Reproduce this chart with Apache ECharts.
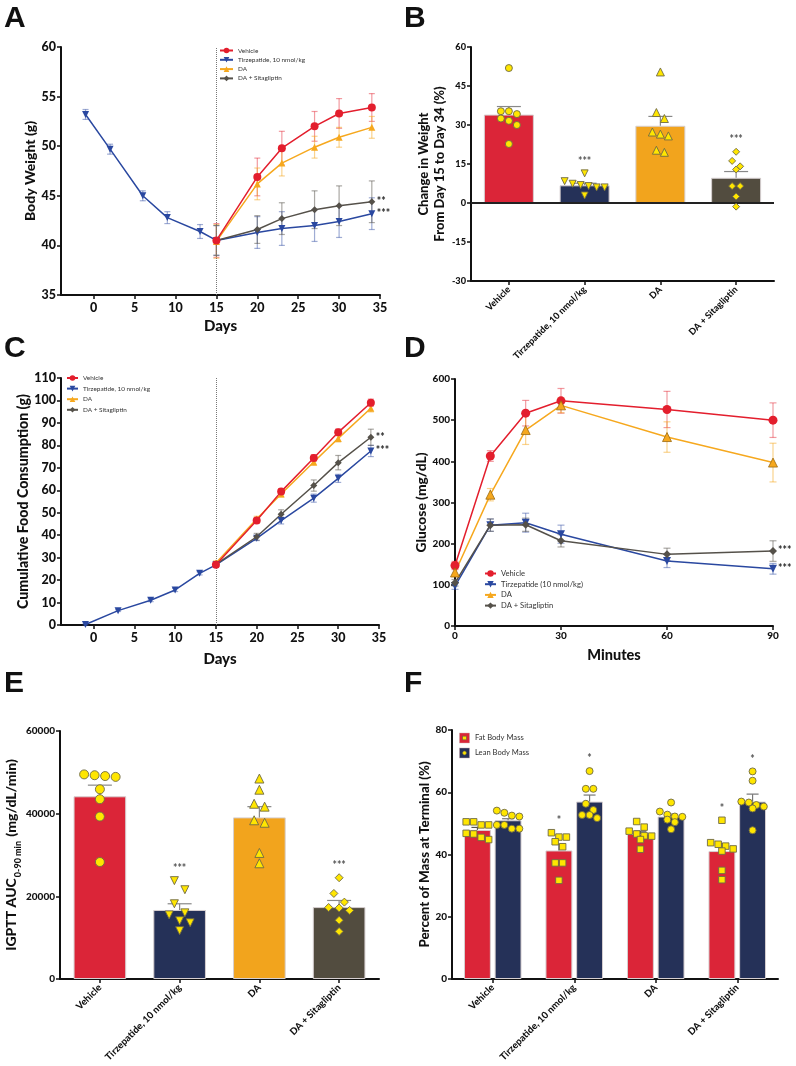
<!DOCTYPE html>
<html><head><meta charset="utf-8">
<script src="https://cdn.jsdelivr.net/npm/echarts@6/dist/echarts.min.js"></script>
<style>html,body{margin:0;padding:0;background:#fff}#c{width:796px;height:1066px}</style>
</head><body><div id="c"></div>
<script>
// ---------------- DATA ----------------
const GROUPS = ['Vehicle', 'Tirzepatide, 10 nmol/kg', 'DA', 'DA + Sitagliptin'];
const LEGEND_D = ['Vehicle', 'Tirzepatide (10 nmol/kg)', 'DA', 'DA + Sitagliptin'];
const DAY_TICKS = [0, 5, 10, 15, 20, 25, 30, 35];

// Panel A: body weight (g)
const daysTirzA = [-1, 2, 6, 9, 13, 15, 20, 23, 27, 30, 34];
const bwTirz    = [53.2, 49.7, 45.0, 42.8, 41.4, 40.5, 41.3, 41.7, 42.0, 42.4, 43.2];
const bwTirzSem = [0.5, 0.5, 0.5, 0.6, 0.7, 1.5, 1.6, 1.7, 1.6, 1.6, 1.6];
const daysPost  = [15, 20, 23, 27, 30, 34];
const bwVeh     = [40.5, 46.9, 49.8, 52.0, 53.3, 53.9];
const bwVehSem  = [1.7, 1.9, 1.7, 1.5, 1.5, 1.4];
const bwDA      = [40.4, 46.2, 48.3, 49.9, 50.9, 51.9];
const bwDASem   = [1.7, 1.6, 1.3, 1.1, 1.0, 1.1];
const bwSita    = [40.5, 41.6, 42.7, 43.6, 44.0, 44.4];
const bwSitaSem = [1.5, 1.4, 1.6, 1.9, 2.0, 2.1];

// Panel B: change in weight day 15 -> 34 (%)
const bMean = [34.0, 6.8, 29.7, 9.7];
const bSem  = [3.1, 0.8, 3.6, 2.4];
const bPtsVeh  = [51.9, 35.3, 34.2, 35.3, 32.5, 31.6, 30.0, 22.7];
const bPtsTirz = [11.4, 8.4, 7.4, 6.9, 6.5, 6.0, 6.0, 2.9];
const bPtsDA   = [50.4, 34.8, 32.5, 27.3, 26.5, 25.8, 20.3, 19.5];
const bPtsSita = [19.7, 16.2, 14.1, 12.9, 6.5, 6.5, 2.5, -1.4];
const bSig = ['', '***', '', '***'];

// Panel C: cumulative food consumption (g)
const daysTirzC = [-1, 3, 7, 10, 13, 15, 20, 23, 27, 30, 34];
const fcTirz    = [0.2, 6.4, 11.0, 15.6, 23.0, 26.8, 38.6, 46.5, 56.5, 65.3, 77.5];
const fcTirzSem = [0.3, 0.4, 0.6, 0.7, 0.7, 1.0, 1.0, 1.5, 1.8, 1.8, 2.5];
const fcVeh     = [26.8, 46.5, 59.4, 74.4, 85.8, 99.0];
const fcVehSem  = [1.0, 1.2, 1.3, 1.5, 1.5, 1.6];
const fcDA      = [27.6, 47.2, 58.3, 72.6, 83.1, 96.5];
const fcDASem   = [1.0, 1.2, 1.3, 1.5, 1.6, 1.6];
const fcSita    = [27.0, 39.3, 49.3, 62.1, 72.3, 83.6];
const fcSitaSem = [1.0, 1.5, 2.0, 2.5, 3.2, 3.6];

// Panel D: glucose (mg/dL)
const minutes  = [0, 10, 20, 30, 60, 90];
const gVeh     = [147, 413, 517, 547, 526, 500];
const gVehSem  = [10, 13, 31, 30, 44, 42];
const gTirz    = [97, 245, 251, 223, 158, 139];
const gTirzSem = [8, 15, 23, 22, 16, 13];
const gDA      = [130, 319, 476, 536, 459, 397];
const gDASem   = [10, 15, 35, 18, 37, 47];
const gSita    = [105, 245, 246, 207, 174, 182];
const gSitaSem = [8, 15, 16, 15, 15, 25];

// Panel E: IGPTT AUC
const eMean = [44200, 16700, 39100, 17400];
const eSem  = [2700, 1500, 2600, 1600];
const ePtsVeh  = [49500, 49300, 49100, 48900, 45900, 43500, 39300, 28300];
const ePtsTirz = [23800, 21600, 18200, 16000, 15500, 14100, 13600, 11700];
const ePtsDA   = [48500, 45800, 42400, 41700, 38400, 37800, 30500, 28000];
const ePtsSita = [24500, 20700, 18600, 17300, 17200, 16600, 14200, 11500];
const eSig = ['', '***', '', '***'];

// Panel F: percent of mass at terminal
const fatMean  = [47.9, 41.3, 46.6, 41.1];
const fatSem   = [0.8, 2.0, 0.9, 2.4];
const leanMean = [51.0, 57.0, 52.2, 57.0];
const leanSem  = [0.5, 2.1, 0.8, 2.4];
const fatPtsVeh  = [50.5, 50.5, 49.5, 49.5, 46.8, 46.6, 45.5, 44.8];
const fatPtsTirz = [47.0, 45.6, 45.6, 44.1, 42.5, 37.3, 37.3, 31.7];
const fatPtsDA   = [50.6, 48.8, 47.5, 46.6, 46.0, 45.9, 44.8, 41.7];
const fatPtsSita = [51.0, 43.8, 43.3, 42.7, 41.8, 41.1, 34.9, 31.9];
const leanPtsVeh  = [54.1, 53.4, 52.5, 52.2, 49.5, 49.5, 48.3, 48.3];
const leanPtsTirz = [66.8, 61.1, 61.1, 56.3, 54.3, 52.7, 52.7, 51.7];
const leanPtsDA   = [56.7, 53.8, 52.8, 52.2, 52.1, 51.2, 50.4, 48.1];
const leanPtsSita = [66.7, 63.7, 57.0, 56.7, 55.9, 55.4, 54.8, 47.8];
const fatSig  = ['', '*', '', '*'];
const leanSig = ['', '*', '', '*'];

// ---------------- STYLE ----------------
const FONT = "Lato,'Liberation Sans',Arial,sans-serif";
const FONT_W = "'Liberation Sans',Arial,sans-serif";
const HEAVY = 900;
const C_VEH = '#E31E2D', C_TIRZ = '#2A48A0', C_DA = '#F6A81E', C_SITA = '#55514A';
const BAR = ['#DB2538', '#253158', '#F2A41D', '#524C3F'];
const PT_FILL = '#FFE600', PT_EDGE = '#6f6a45';

function hexA(hex, a) { const n = parseInt(hex.slice(1), 16); return `rgba(${n >> 16 & 255},${n >> 8 & 255},${n & 255},${a})`; }

function swarm(vals, ppu, step) {
  const idx = vals.map((v, i) => i).sort((a, b) => vals[b] - vals[a]);
  const off = new Array(vals.length).fill(0);
  let row = [];
  const flush = () => { const n = row.length; row.forEach((k, j) => { off[k] = (j - (n - 1) / 2) * step; }); row = []; };
  idx.forEach(k => {
    if (row.length && (vals[row[0]] - vals[k]) * ppu > step * 0.9) flush();
    row.push(k);
  });
  flush();
  return off;
}

const nameStyle = (fs, extra) => Object.assign({ color: '#111', fontWeight: HEAVY, fontFamily: FONT, fontSize: fs }, extra || {});
const tickStyle = (fs, extra) => Object.assign({ color: '#111', fontWeight: HEAVY, fontSize: fs, fontFamily: FONT, margin: 5 }, extra || {});
function valAxis(gi, min, max, interval, fs, extra) {
  return Object.assign({
    type: 'value', gridIndex: gi, min, max, interval,
    axisLine: { show: true, onZero: false, lineStyle: { color: '#111', width: 2 } },
    axisTick: { show: true, length: 4, lineStyle: { color: '#111', width: 1.5 } },
    axisLabel: tickStyle(fs),
    splitLine: { show: false },
    nameLocation: 'middle',
    nameTextStyle: nameStyle(14)
  }, extra || {});
}
function catAxis(gi, fs) {
  return {
    type: 'category', gridIndex: gi, data: GROUPS,
    axisLine: { show: true, onZero: false, lineStyle: { color: '#111', width: 2 } },
    axisTick: { show: true, alignWithLabel: true, length: 4, lineStyle: { color: '#111', width: 1.5 } },
    axisLabel: tickStyle(fs, { interval: 0, rotate: 45, margin: 7 })
  };
}

function line(name, xi, xs, ys, color, symbol, size, extra) {
  return Object.assign({
    type: 'line', name, xAxisIndex: xi, yAxisIndex: xi,
    data: xs.map((x, i) => [x, ys[i]]),
    symbol, symbolSize: size, showSymbol: true, clip: false,
    lineStyle: { color, width: 1.5 }, itemStyle: { color }, z: 5, animation: false
  }, extra || {});
}
function errBars(xi, xs, ys, es, color, cap, opts) {
  opts = opts || {};
  const up = !!opts.upOnly, dx = opts.dx || 0, w = opts.width || 1.2;
  return {
    type: 'custom', xAxisIndex: xi, yAxisIndex: xi, silent: true, z: opts.z || 3, animation: false, clip: false,
    data: xs.map((x, i) => [x, ys[i], es[i]]),
    encode: { x: 0, y: 1 },
    renderItem: (p, api) => {
      const x = api.value(0), y = api.value(1), e = api.value(2);
      const t = api.coord([x, y + e]); const b = api.coord(up ? [x, y] : [x, y - e]);
      const X = t[0] + dx;
      const st = { stroke: color, lineWidth: w, fill: null };
      const ch = [
        { type: 'line', shape: { x1: X, y1: t[1], x2: X, y2: b[1] }, style: st },
        { type: 'line', shape: { x1: X - cap, y1: t[1], x2: X + cap, y2: t[1] }, style: st }
      ];
      if (!up) ch.push({ type: 'line', shape: { x1: X - cap, y1: b[1], x2: X + cap, y2: b[1] }, style: st });
      return { type: 'group', children: ch };
    }
  };
}
function points(xi, groupsPts, symbols, ppu, step, dxBase) {
  const data = [];
  groupsPts.forEach((vals, ci) => {
    const off = swarm(vals, ppu, step);
    const s = symbols[ci];
    vals.forEach((v, k) => data.push({
      value: [ci, v], symbol: s.symbol, symbolRotate: s.rot || 0, symbolSize: s.size,
      symbolOffset: [(dxBase || 0) + off[k], 0]
    }));
  });
  return { type: 'scatter', xAxisIndex: xi, yAxisIndex: xi, data, z: 6, animation: false, silent: true, clip: false,
    itemStyle: { color: PT_FILL, borderColor: PT_EDGE, borderWidth: 0.9, opacity: 1 } };
}
function stars(xi, groupsPts, sig, dx) {
  const data = [];
  sig.forEach((s, ci) => {
    if (!s) return;
    data.push({ value: [ci, Math.max(...groupsPts[ci])], label: { formatter: s }, symbolOffset: [dx || 0, 0] });
  });
  return { type: 'scatter', xAxisIndex: xi, yAxisIndex: xi, data, symbolSize: 1, z: 7, silent: true, animation: false,
    itemStyle: { color: 'rgba(0,0,0,0)' },
    label: { show: true, position: 'top', distance: 6, color: '#222', fontSize: 10.5, fontWeight: 'bold', fontFamily: FONT } };
}
const endStar = (txt) => ({ endLabel: { show: true, formatter: txt, color: '#222', fontSize: 10.5, fontWeight: 'bold', fontFamily: FONT, distance: 5 } });
const vline15 = { markLine: { silent: true, symbol: 'none', label: { show: false }, animation: false,
  lineStyle: { type: 'dotted', color: '#777', width: 1 }, data: [{ xAxis: 15 }] } };

const svgIcon = (bg, inner) => 'image://data:image/svg+xml;charset=utf-8,' + encodeURIComponent(
  `<svg xmlns="http://www.w3.org/2000/svg" width="24" height="24"><rect x="1" y="1" width="22" height="22" fill="${bg}" stroke="#c9a9ad" stroke-width="1.2"/>${inner}</svg>`);
const fatIcon = svgIcon(BAR[0], `<rect x="8" y="8" width="8" height="8" fill="${PT_FILL}" stroke="${PT_EDGE}" stroke-width="1.4"/>`);
const leanIcon = svgIcon(BAR[1], `<circle cx="12" cy="12" r="4.2" fill="${PT_FILL}" stroke="${PT_EDGE}" stroke-width="1.4"/>`);

// ---------------- GRIDS ----------------
const grids = [
  { left: 61, top: 47, width: 319, height: 248 },   // A
  { left: 471, top: 47, width: 303, height: 234 },  // B
  { left: 61, top: 378, width: 318, height: 247 },  // C
  { left: 455, top: 379, width: 318, height: 247 }, // D
  { left: 60, top: 731, width: 319, height: 248 },  // E
  { left: 452, top: 730, width: 326, height: 249 }  // F
];

const dayAxisExtra = (gap) => ({ name: 'Days', nameGap: gap, nameTextStyle: nameStyle(15),
  axisLabel: tickStyle(12.5, { customValues: DAY_TICKS, margin: 6 }),
  axisTick: { customValues: DAY_TICKS, length: 4, lineStyle: { color: '#111', width: 1.5 } } });

const xAxes = [
  valAxis(0, -4, 35, null, 12.5, dayAxisExtra(24)),
  catAxis(1, 9.2),
  valAxis(2, -4, 35, null, 12.5, dayAxisExtra(27)),
  valAxis(3, 0, 90, 30, 10, { name: 'Minutes', nameGap: 22, nameTextStyle: nameStyle(14.5) }),
  catAxis(4, 9.6),
  catAxis(5, 9.6)
];
const yAxes = [
  valAxis(0, 35, 60, 5, 12.5, { name: 'Body Weight (g)', nameGap: 24 }),
  valAxis(1, -30, 60, 15, 9.2, { name: 'Change in Weight\nFrom Day 15 to Day 34 (%)', nameGap: 22,
    nameTextStyle: nameStyle(13, { lineHeight: 16 }) }),
  valAxis(2, 0, 110, 10, 12.5, { name: 'Cumulative Food Consumption (g)', nameGap: 29, nameTextStyle: nameStyle(14.2) }),
  valAxis(3, 0, 600, 100, 10, { name: 'Glucose (mg/dL)', nameGap: 26, nameTextStyle: nameStyle(13.8) }),
  valAxis(4, 0, 60000, 20000, 10, { name: '{a|IGPTT AUC}{s|0-90 min}{a| (mg/dL/min)}', nameGap: 34,
    axisLabel: tickStyle(10, { formatter: v => String(v) }),
    nameTextStyle: { rich: {
      a: { color: '#111', fontWeight: HEAVY, fontFamily: FONT, fontSize: 14, verticalAlign: 'bottom' },
      s: { color: '#111', fontWeight: HEAVY, fontFamily: FONT, fontSize: 9, verticalAlign: 'bottom', padding: [0, 1, -4, 1] }
    } } }),
  valAxis(5, 0, 80, 20, 10, { name: 'Percent of Mass at Terminal (%)', nameGap: 17, nameTextStyle: nameStyle(13.3) })
];

const series = [];
// ---- A ----
series.push(errBars(0, daysTirzA, bwTirz, bwTirzSem, hexA(C_TIRZ, 0.45), 3));
series.push(errBars(0, daysPost, bwVeh, bwVehSem, hexA(C_VEH, 0.45), 3));
series.push(errBars(0, daysPost, bwDA, bwDASem, hexA(C_DA, 0.5), 3));
series.push(errBars(0, daysPost, bwSita, bwSitaSem, hexA(C_SITA, 0.5), 3));
series.push(line(GROUPS[1], 0, daysTirzA, bwTirz, C_TIRZ, 'triangle', 7, Object.assign({ symbolRotate: 180 }, endStar('***'), vline15)));
series.push(line(GROUPS[2], 0, daysPost, bwDA, C_DA, 'triangle', 7));
series.push(line(GROUPS[3], 0, daysPost, bwSita, C_SITA, 'diamond', 7, endStar('**')));
series.push(line(GROUPS[0], 0, daysPost, bwVeh, C_VEH, 'circle', 8));

// ---- B ----
const bPts = [bPtsVeh, bPtsTirz, bPtsDA, bPtsSita];
series.push({ type: 'bar', xAxisIndex: 1, yAxisIndex: 1, barWidth: '66%', z: 2, animation: false, silent: true,
  data: bMean.map((v, i) => ({ value: v, itemStyle: { color: BAR[i] } })),
  itemStyle: { borderColor: '#d6cfd0', borderWidth: 1 },
  markLine: { silent: true, symbol: 'none', label: { show: false }, animation: false,
    lineStyle: { type: 'solid', color: '#222', width: 2 }, data: [{ yAxis: 0 }] } });
series.push(errBars(1, [0, 1, 2, 3], bMean, bSem, '#888', 12, { upOnly: true, z: 4 }));
series.push(points(1, bPts, [
  { symbol: 'circle', size: 7 }, { symbol: 'triangle', rot: 180, size: 7 },
  { symbol: 'triangle', size: 8 }, { symbol: 'diamond', size: 7 }], 234 / 90, 8));
series.push(stars(1, bPts, bSig));

// ---- C ----
series.push(errBars(2, daysTirzC, fcTirz, fcTirzSem, hexA(C_TIRZ, 0.45), 3));
series.push(errBars(2, daysPost, fcVeh, fcVehSem, hexA(C_VEH, 0.45), 3));
series.push(errBars(2, daysPost, fcDA, fcDASem, hexA(C_DA, 0.5), 3));
series.push(errBars(2, daysPost, fcSita, fcSitaSem, hexA(C_SITA, 0.5), 3));
series.push(line(GROUPS[1], 2, daysTirzC, fcTirz, C_TIRZ, 'triangle', 7, Object.assign({ symbolRotate: 180 }, endStar('***'), vline15)));
series.push(line(GROUPS[2], 2, daysPost, fcDA, C_DA, 'triangle', 7));
series.push(line(GROUPS[3], 2, daysPost, fcSita, C_SITA, 'diamond', 7, endStar('**')));
series.push(line(GROUPS[0], 2, daysPost, fcVeh, C_VEH, 'circle', 8));

// ---- D ----
series.push(errBars(3, minutes, gVeh, gVehSem, hexA(C_VEH, 0.45), 3.5));
series.push(errBars(3, minutes, gDA, gDASem, hexA(C_DA, 0.5), 3.5));
series.push(errBars(3, minutes, gTirz, gTirzSem, hexA(C_TIRZ, 0.45), 3.5));
series.push(errBars(3, minutes, gSita, gSitaSem, hexA(C_SITA, 0.5), 3.5));
series.push(line(LEGEND_D[0], 3, minutes, gVeh, C_VEH, 'circle', 9));
series.push(line(LEGEND_D[2], 3, minutes, gDA, C_DA, 'triangle', 9, { itemStyle: { color: C_DA, borderColor: '#9a6a10', borderWidth: 0.8 } }));
series.push(line(LEGEND_D[1], 3, minutes, gTirz, C_TIRZ, 'triangle', 8, Object.assign({ symbolRotate: 180 }, endStar('***'))));
series.push(line(LEGEND_D[3], 3, minutes, gSita, C_SITA, 'diamond', 8, endStar('***')));

// ---- E ----
const ePts = [ePtsVeh, ePtsTirz, ePtsDA, ePtsSita];
series.push({ type: 'bar', xAxisIndex: 4, yAxisIndex: 4, barWidth: '66%', z: 2, animation: false, silent: true,
  data: eMean.map((v, i) => ({ value: v, itemStyle: { color: BAR[i] } })),
  itemStyle: { borderColor: '#d6cfd0', borderWidth: 1 } });
series.push(errBars(4, [0, 1, 2, 3], eMean, eSem, '#888', 12, { upOnly: true, z: 4 }));
series.push(points(4, ePts, [
  { symbol: 'circle', size: 9 }, { symbol: 'triangle', rot: 180, size: 8 },
  { symbol: 'triangle', size: 9 }, { symbol: 'diamond', size: 8 }], 248 / 60000, 10.5));
series.push(stars(4, ePts, eSig));

// ---- F ----
const fatPts = [fatPtsVeh, fatPtsTirz, fatPtsDA, fatPtsSita];
const leanPts = [leanPtsVeh, leanPtsTirz, leanPtsDA, leanPtsSita];
const catW = 326 / 4, bw = catW * 0.33, half = (bw + bw * 0.14) / 2;
series.push({ type: 'bar', name: 'Fat Body Mass', xAxisIndex: 5, yAxisIndex: 5, barWidth: '33%', barGap: '14%', z: 2, animation: false, silent: true,
  data: fatMean, itemStyle: { color: BAR[0], borderColor: '#d6cfd0', borderWidth: 1 } });
series.push({ type: 'bar', name: 'Lean Body Mass', xAxisIndex: 5, yAxisIndex: 5, barWidth: '33%', barGap: '14%', z: 2, animation: false, silent: true,
  data: leanMean, itemStyle: { color: BAR[1], borderColor: '#d6cfd0', borderWidth: 1 } });
series.push(errBars(5, [0, 1, 2, 3], fatMean, fatSem, '#555', 6, { upOnly: true, z: 4, dx: -half }));
series.push(errBars(5, [0, 1, 2, 3], leanMean, leanSem, '#777', 6, { upOnly: true, z: 4, dx: half }));
const sq = { symbol: 'rect', size: 6.5 }, ci = { symbol: 'circle', size: 7 };
series.push(points(5, fatPts, [sq, sq, sq, sq], 249 / 80, 7.5, -half));
series.push(points(5, leanPts, [ci, ci, ci, ci], 249 / 80, 7.5, half));
series.push(stars(5, fatPts, fatSig, -half));
series.push(stars(5, leanPts, leanSig, half));

// ---------------- OPTION ----------------
const letter = (t, l, tp) => ({ text: t, left: l, top: tp, padding: 0,
  textStyle: { fontSize: 30, fontWeight: 'bold', fontFamily: FONT_W, color: '#111' } });
const legText = (fs, lh) => ({ fontSize: fs, lineHeight: lh, fontFamily: FONT, color: '#333' });

const option = {
  animation: false,
  backgroundColor: '#fff',
  textStyle: { fontFamily: FONT },
  title: [letter('A', 4, 4), letter('B', 404, 4), letter('C', 4, 334), letter('D', 404, 334), letter('E', 4, 669), letter('F', 404, 669)],
  legend: [
    { orient: 'vertical', left: 219, top: 46.5, padding: 0, itemWidth: 13, itemHeight: 7, itemGap: 1.3, selectedMode: false,
      data: GROUPS, textStyle: legText(6.4, 8) },
    { orient: 'vertical', left: 66, top: 374, padding: 0, itemWidth: 11, itemHeight: 7, itemGap: 2.6, selectedMode: false,
      data: GROUPS, textStyle: legText(6.4, 8) },
    { orient: 'vertical', left: 484, top: 569, padding: 0, itemWidth: 11, itemHeight: 8, itemGap: 1.7, selectedMode: false,
      data: LEGEND_D, textStyle: legText(7.6, 9) },
    { orient: 'vertical', left: 459, top: 732, padding: 0, itemWidth: 11, itemHeight: 12, itemGap: 3, selectedMode: false,
      data: [{ name: 'Fat Body Mass', icon: fatIcon }, { name: 'Lean Body Mass', icon: leanIcon }], textStyle: legText(7.6, 12) }
  ],
  grid: grids,
  xAxis: xAxes,
  yAxis: yAxes,
  series
};

const chart = echarts.init(document.getElementById('c'), null, { renderer: 'canvas', width: 796, height: 1066 });
chart.setOption(option);
</script>
</body></html>
